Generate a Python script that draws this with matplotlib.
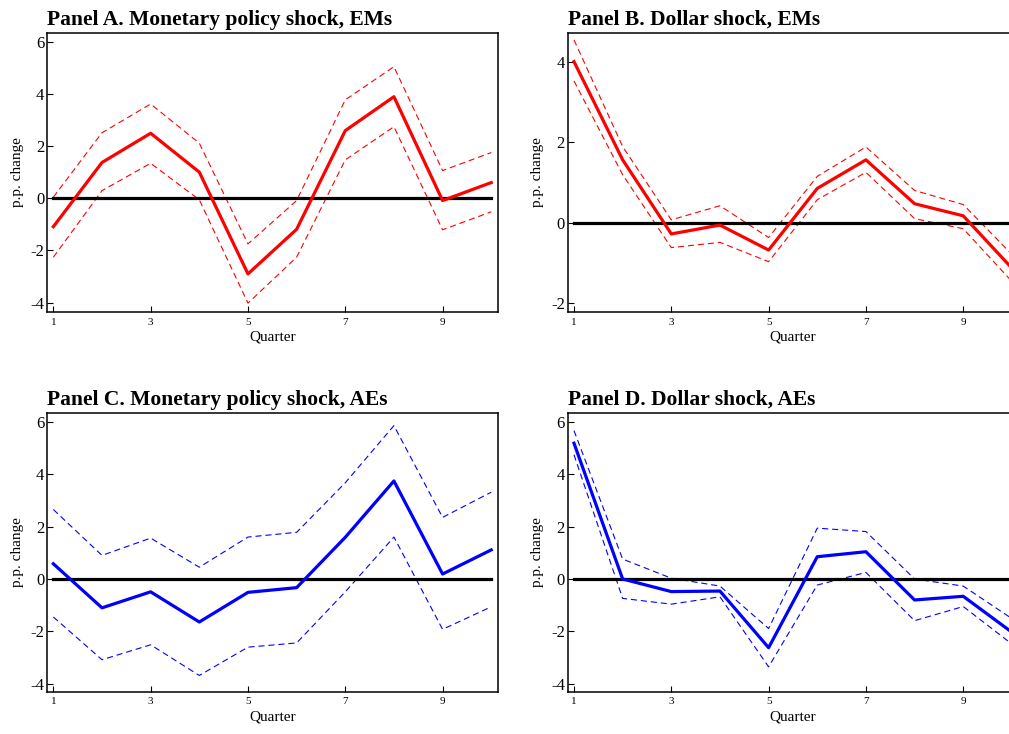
from matplotlib import pyplot as plt
import numpy as np

plt.rcParams['font.family'] = ['Liberation Serif', 'DejaVu Serif']
plt.rcParams['axes.unicode_minus'] = False

quarters = np.arange(1, 11)

# Panel A: monetary policy shock, EMs
mp_em     = [-1.09, 1.37, 2.49, 1.00, -2.90, -1.19, 2.59, 3.89, -0.09, 0.60]
mp_em_hi  = [0.04, 2.51, 3.61, 2.11, -1.75, -0.09, 3.77, 5.04, 1.06, 1.75]
mp_em_lo  = [-2.26, 0.29, 1.34, -0.06, -4.02, -2.26, 1.47, 2.74, -1.21, -0.52]

# Panel B: dollar shock, EMs
usd_em    = [4.00, 1.56, -0.28, -0.06, -0.68, 0.85, 1.56, 0.47, 0.17, -1.13]
usd_em_hi = [4.54, 1.89, 0.07, 0.42, -0.37, 1.15, 1.88, 0.80, 0.45, -0.79]
usd_em_lo = [3.52, 1.19, -0.62, -0.49, -0.97, 0.57, 1.25, 0.10, -0.15, -1.46]

# Panel C: monetary policy shock, AEs
mp_ae     = [0.58, -1.10, -0.49, -1.64, -0.51, -0.33, 1.59, 3.74, 0.19, 1.11]
mp_ae_hi  = [2.65, 0.90, 1.56, 0.45, 1.60, 1.78, 3.67, 5.85, 2.35, 3.31]
mp_ae_lo  = [-1.45, -3.08, -2.51, -3.68, -2.60, -2.44, -0.49, 1.60, -1.92, -1.06]

# Panel D: dollar shock, AEs
usd_ae    = [5.18, 0.00, -0.48, -0.46, -2.62, 0.85, 1.04, -0.80, -0.66, -2.03]
usd_ae_hi = [5.66, 0.76, 0.03, -0.27, -1.89, 1.94, 1.81, 0.00, -0.27, -1.51]
usd_ae_lo = [4.74, -0.74, -0.96, -0.68, -3.35, -0.23, 0.25, -1.59, -1.05, -2.48]

titles = ['Panel A. Monetary policy shock, EMs',
          'Panel B. Dollar shock, EMs',
          'Panel C. Monetary policy shock, AEs',
          'Panel D. Dollar shock, AEs']
xticks = [1, 3, 5, 7, 9]

panels = [
    (mp_em, mp_em_hi, mp_em_lo, 'red', [-4, -2, 0, 2, 4, 6], (-4.36, 6.33)),
    (usd_em, usd_em_hi, usd_em_lo, 'red', [-2, 0, 2, 4], (-2.22, 4.71)),
    (mp_ae, mp_ae_hi, mp_ae_lo, 'blue', [-4, -2, 0, 2, 4, 6], (-4.30, 6.32)),
    (usd_ae, usd_ae_hi, usd_ae_lo, 'blue', [-4, -2, 0, 2, 4, 6], (-4.30, 6.32)),
]

# axes boxes in figure fractions (right column runs off the page, as in the source)
boxes = [
    [0.0466, 0.5749, 0.4470, 0.3801],
    [0.5626, 0.5749, 0.4470, 0.3801],
    [0.0466, 0.0576, 0.4470, 0.3793],
    [0.5626, 0.0576, 0.4470, 0.3793],
]

fig = plt.figure(figsize=(10.09, 7.34), dpi=100)

for k, (mid, hi, lo, col, yt, ylim) in enumerate(panels):
    ax = fig.add_axes(boxes[k])
    ax.plot(quarters, hi, color=col, lw=0.8, dashes=(5.5, 3.5))
    ax.plot(quarters, lo, color=col, lw=0.8, dashes=(5.5, 3.5))
    ax.plot([quarters[0], quarters[-1]], [0, 0], color='black', lw=2.3, zorder=3)
    ax.plot(quarters, mid, color=col, lw=2.3, zorder=4)

    ax.set_xlim(0.87, 10.14)
    ax.set_ylim(*ylim)
    ax.set_xticks(xticks)
    ax.set_yticks(yt)
    ax.tick_params(axis='both', direction='in', length=4, width=0.8)
    ax.tick_params(axis='x', labelsize=8, pad=4)
    ax.tick_params(axis='y', labelsize=12, pad=2)
    for s in ax.spines.values():
        s.set_linewidth(1.1)

    ax.set_xlabel('Quarter', fontsize=11, labelpad=3)
    ax.set_ylabel('p.p. change', fontsize=11)
    ax.yaxis.set_label_coords(-0.052, 0.5)
    ax.set_title(titles[k], loc='left', fontsize=15.5, fontweight='bold', pad=6)

fig.savefig('out.png', dpi=100)
